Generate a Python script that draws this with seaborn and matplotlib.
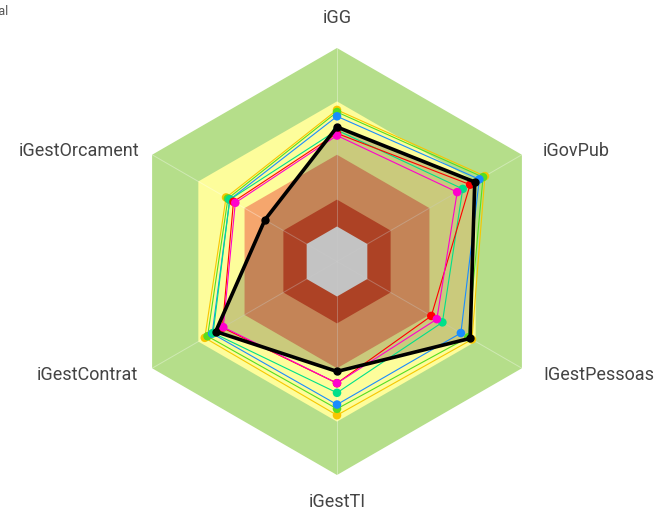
import numpy as np
import pandas as pd
import matplotlib
matplotlib.use("Agg")
import matplotlib.pyplot as plt
import seaborn as sns

axes_labels = ["iGG", "iGovPub", "IGestPessoas", "iGestTI", "iGestContrat", "iGestOrcament"]

# background bands (upper edge of each level) and their colours
band_edges = [1.0, 0.75, 0.5, 0.29, 0.164]
band_colors = ["#b5de8a", "#fdfd9b", "#f5a66d", "#d9532f", "#f4f4f4"]

# series values, in axis order
s_gold = [0.71, 0.80, 0.73, 0.72, 0.715, 0.60]
s_lime = [0.70, 0.79, 0.71, 0.69, 0.70, 0.59]
s_blue = [0.68, 0.77, 0.67, 0.67, 0.675, 0.58]
s_spring = [0.615, 0.68, 0.57, 0.615, 0.67, 0.58]
s_red = [0.60, 0.72, 0.51, 0.57, 0.62, 0.56]
s_magenta = [0.59, 0.65, 0.54, 0.57, 0.615, 0.55]
s_black = [0.63, 0.745, 0.72, 0.515, 0.656, 0.39]

series = {
    "gold": (s_gold, "#f7c600"),
    "lime": (s_lime, "#55dd22"),
    "blue": (s_blue, "#1a8cff"),
    "spring": (s_spring, "#00e08a"),
    "red": (s_red, "#ff0000"),
    "magenta": (s_magenta, "#ff00cc"),
}

angles = np.deg2rad([90, 30, -30, -90, -150, 150])


def to_xy(vals):
    v = np.asarray(vals, dtype=float)
    return v * np.cos(angles), v * np.sin(angles)


sns.set_theme(style="white")
plt.rcParams["font.family"] = ["Roboto", "DejaVu Sans"]

fig = plt.figure(figsize=(6.61, 5.11), dpi=100)
R = 213.5
ax = fig.add_axes([(337 - R) / 661, (511 - 261.5 - R) / 511, 2 * R / 661, 2 * R / 511])
ax.set_xlim(-1, 1)
ax.set_ylim(-1, 1)
ax.axis("off")

for edge, col in zip(band_edges, band_colors):
    bx, by = to_xy([edge] * 6)
    ax.fill(bx, by, color=col, lw=0, zorder=1)

# spokes
for a in angles:
    ax.plot([0, np.cos(a)], [0, np.sin(a)], color="white", lw=0.7, alpha=0.35, zorder=2)

rows = []
for name, (vals, col) in series.items():
    x, y = to_xy(vals)
    ax.plot(np.append(x, x[0]), np.append(y, y[0]), color=col, lw=0.8, zorder=3)
    for xi, yi in zip(x, y):
        rows.append({"x": xi, "y": yi, "serie": name})

df = pd.DataFrame(rows)
palette = {k: v[1] for k, v in series.items()}
sns.scatterplot(data=df, x="x", y="y", hue="serie", palette=palette, s=38,
                edgecolor="none", legend=False, ax=ax, zorder=4)

bx, by = to_xy(s_black)
ax.fill(bx, by, color="black", alpha=0.2, lw=0, zorder=2.5)
ax.plot(np.append(bx, bx[0]), np.append(by, by[0]), color="black", lw=2.6, zorder=5)
ax.scatter(bx, by, s=25, color="black", zorder=6)
ax.set_xlabel("")
ax.set_ylabel("")

label_pos = [(0.0, 1.14, "center"), (0.965, 0.517, "left"), (0.965, -0.53, "left"),
             (0.0, -1.126, "center"), (-0.932, -0.53, "right"), (-0.925, 0.517, "right")]
for lab, (lx, ly, ha) in zip(axes_labels, label_pos):
    ax.text(lx, ly, lab, ha=ha, va="center", fontsize=13, color="#444444", clip_on=False)

fig.text(0.012, 0.978, "Nacional", ha="right", va="center", fontsize=9, color="#555555")

fig.savefig("out.png", dpi=100)
